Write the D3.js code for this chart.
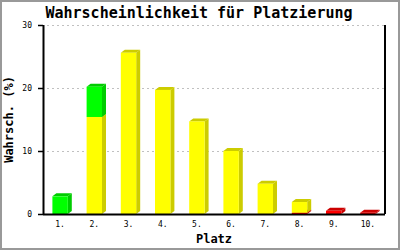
<!DOCTYPE html>
<html>
<head>
<meta charset="utf-8">
<script src="https://cdn.jsdelivr.net/npm/d3@7"></script>
<style>
  body { margin: 0; background: #fff; }
  svg { display: block; }
</style>
</head>
<body>
<div id="chart"></div>
<script>
// data
const places = ["1.", "2.", "3.", "4.", "5.", "6.", "7.", "8.", "9.", "10."];
const red    = [0, 0, 0, 0, 0, 0, 0, 0.2, 0.5, 0.2];
const yellow = [0, 15.4, 25.6, 19.7, 14.7, 10.0, 4.8, 1.7, 0, 0];
const green  = [2.8, 4.8, 0, 0, 0, 0, 0, 0, 0, 0];
const yTicks = [0, 10, 20, 30];

const width = 400, height = 250;
const margin = {top: 25, right: 15, bottom: 36, left: 43};
const dx = 4, dy = 3; // 3d depth

const series = [
  {name: "red", values: red, front: "#ff0000", side: "#cc0000"},
  {name: "yellow", values: yellow, front: "#ffff00", side: "#cccc00"},
  {name: "green", values: green, front: "#00ff00", side: "#00cc00"}
];

const svg = d3.select("#chart").append("svg")
    .attr("width", width)
    .attr("height", height);

svg.append("rect")
    .attr("x", 1).attr("y", 1)
    .attr("width", width - 2).attr("height", height - 2)
    .attr("fill", "#fff")
    .attr("stroke", "#999")
    .attr("stroke-width", 2);

const x = d3.scaleBand()
    .domain(places)
    .range([margin.left, width - margin.right])
    .paddingInner(0.55)
    .paddingOuter(0.275);

const y = d3.scaleLinear()
    .domain([0, 30])
    .range([height - margin.bottom, margin.top]);

// grid
svg.append("g").selectAll("line")
    .data(yTicks.filter(d => d > 0))
    .enter().append("line")
    .attr("x1", margin.left + 4)
    .attr("x2", width - margin.right)
    .attr("y1", d => y(d) + 0.5)
    .attr("y2", d => y(d) + 0.5)
    .attr("stroke", "#c0c0c0")
    .attr("stroke-dasharray", "2,3");

// stacked 3d bars
const stack = d3.stack()
    .keys(series.map(s => s.name))(places.map((p, i) => {
        let row = {place: p};
        series.forEach(s => row[s.name] = s.values[i]);
        return row;
    }));

stack.forEach((layer, k) => {
    const s = series[k];
    const g = svg.append("g");
    layer.forEach((d, i) => {
        if (d[1] - d[0] <= 0) return;
        const x0 = x(places[i]), w = x.bandwidth();
        const yTop = y(d[1]), yBot = y(d[0]);
        // side face
        g.append("path")
            .attr("d", "M" + (x0 + w) + "," + yBot +
                " L" + (x0 + w + dx) + "," + (yBot - dy) +
                " L" + (x0 + w + dx) + "," + (yTop - dy) +
                " L" + (x0 + w) + "," + yTop + "Z")
            .attr("fill", s.side);
        // top face
        g.append("path")
            .attr("d", "M" + x0 + "," + yTop +
                " L" + (x0 + dx) + "," + (yTop - dy) +
                " L" + (x0 + w + dx) + "," + (yTop - dy) +
                " L" + (x0 + w) + "," + yTop + "Z")
            .attr("fill", s.side);
        // front
        g.append("rect")
            .attr("x", x0)
            .attr("y", yTop)
            .attr("width", w)
            .attr("height", yBot - yTop)
            .attr("fill", s.front);
    });
});

// axes
const yAxis = svg.append("g")
    .attr("transform", "translate(" + margin.left + ",0)")
    .call(d3.axisLeft(y).tickValues(yTicks).tickSize(5).tickPadding(6));
yAxis.select(".domain").attr("d", "M0.5," + y(30) + "V" + (y(0) + 0.5));
yAxis.selectAll("text")
    .attr("fill", "#000")
    .attr("font-family", "DejaVu Sans Mono")
    .attr("font-size", 8);
yAxis.selectAll("line").attr("stroke-width", 1.5);

const xAxis = svg.append("g")
    .attr("transform", "translate(0," + y(0) + ")")
    .call(d3.axisBottom(x).tickSize(0).tickPadding(7));
xAxis.select(".domain").attr("d", "M" + margin.left + ",0.5H" + (width - margin.right));
xAxis.selectAll("text")
    .attr("fill", "#000")
    .attr("font-family", "DejaVu Sans Mono")
    .attr("font-size", 8);
svg.selectAll(".domain").attr("stroke-width", 2);

// right border line
svg.append("line")
    .attr("x1", width - margin.right)
    .attr("x2", width - margin.right)
    .attr("y1", y(30))
    .attr("y2", y(0))
    .attr("stroke", "#000")
    .attr("stroke-width", 2);

// titles
svg.append("text")
    .attr("x", 199)
    .attr("y", 18)
    .attr("text-anchor", "middle")
    .attr("font-family", "DejaVu Sans Mono")
    .attr("font-weight", "bold")
    .attr("font-size", 15)
    .text("Wahrscheinlichkeit für Platzierung");

svg.append("text")
    .attr("x", (margin.left + width - margin.right) / 2)
    .attr("y", 243)
    .attr("text-anchor", "middle")
    .attr("font-family", "DejaVu Sans Mono")
    .attr("font-weight", "bold")
    .attr("font-size", 12)
    .text("Platz");

svg.append("text")
    .attr("transform", "translate(13," + ((y(0) + y(30)) / 2) + ") rotate(-90)")
    .attr("text-anchor", "middle")
    .attr("font-family", "DejaVu Sans Mono")
    .attr("font-weight", "bold")
    .attr("font-size", 12)
    .text("Wahrsch. (%)");
</script>
</body>
</html>
